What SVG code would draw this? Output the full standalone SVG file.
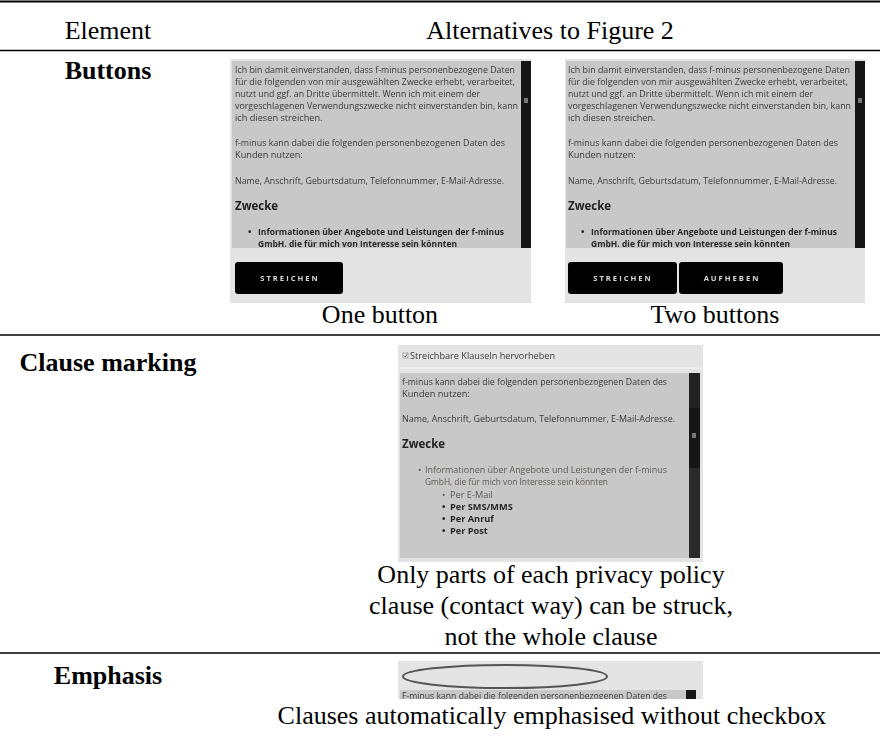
<svg xmlns="http://www.w3.org/2000/svg" width="880" height="742" viewBox="0 0 880 742">
<defs>
<style>
.t{font-family:"Liberation Serif","Times New Roman",serif;font-size:26px;fill:#000}
.b{font-weight:bold}
.s{font-family:"Open Sans","DejaVu Sans",sans-serif;font-size:9.2px;fill:#383838}
.sb{font-family:"Open Sans","DejaVu Sans",sans-serif;font-size:9.2px;font-weight:bold;fill:#262626}
.sh{font-family:"Open Sans","DejaVu Sans",sans-serif;font-size:11.5px;font-weight:bold;fill:#222}
.sl{font-family:"Open Sans","DejaVu Sans",sans-serif;font-size:9.2px;fill:#5e5a56}
.btn{fill:#060606}
.bt{font-family:"Open Sans","DejaVu Sans",sans-serif;font-size:7.6px;font-weight:bold;fill:#d8d8d8;letter-spacing:2px;text-anchor:middle}
.bg{fill:#e4e4e4}
.area{fill:#c8c8c8}
.sc{fill:#141414}
.rule{stroke:#000;fill:none}
</style>
<filter id="soft" x="-2%" y="-2%" width="104%" height="104%"><feGaussianBlur stdDeviation="0.3"/></filter>
<clipPath id="c1"><rect x="232" y="61" width="288" height="187"/></clipPath>
<clipPath id="c2"><rect x="566" y="61" width="289" height="187"/></clipPath>
<clipPath id="c4"><rect x="398" y="661" width="305" height="38"/></clipPath>
</defs>

<g id="table-rules">
<line class="rule" x1="0" y1="1.5" x2="880" y2="1.5" stroke-width="2"/>
<line class="rule" x1="0" y1="50.5" x2="880" y2="50.5" stroke-width="1.5"/>
<line class="rule" x1="0" y1="335" x2="880" y2="335" stroke-width="1.5"/>
<line class="rule" x1="0" y1="653" x2="880" y2="653" stroke-width="1.5"/>
</g>

<g id="header">
<text class="t" x="108" y="39" text-anchor="middle">Element</text>
<text class="t" x="550" y="39" text-anchor="middle">Alternatives to Figure 2</text>
</g>

<g id="row-buttons">
<text class="t b" x="108" y="79" text-anchor="middle">Buttons</text>
<g id="shot-one-button" filter="url(#soft)">
<rect class="bg" x="230" y="59" width="301" height="244"/>
<rect class="area" x="232" y="61" width="289" height="187"/>
<rect class="sc" x="521" y="61" width="10" height="187"/>
<rect x="524" y="98" width="4" height="5" fill="#777"/>
<g clip-path="url(#c1)">
<text class="s" x="235" y="73" textLength="280" lengthAdjust="spacingAndGlyphs">Ich bin damit einverstanden, dass f-minus personenbezogene Daten</text>
<text class="s" x="235" y="85" textLength="280" lengthAdjust="spacingAndGlyphs">für die folgenden von mir ausgewählten Zwecke erhebt, verarbeitet,</text>
<text class="s" x="235" y="97" textLength="245" lengthAdjust="spacingAndGlyphs">nutzt und ggf. an Dritte übermittelt. Wenn ich mit einem der</text>
<text class="s" x="235" y="109" textLength="283" lengthAdjust="spacingAndGlyphs">vorgeschlagenen Verwendungszwecke nicht einverstanden bin, kann</text>
<text class="s" x="235" y="121">ich diesen streichen.</text>
<text class="s" x="235" y="146" textLength="270" lengthAdjust="spacingAndGlyphs">f-minus kann dabei die folgenden personenbezogenen Daten des</text>
<text class="s" x="235" y="158">Kunden nutzen:</text>
<text class="s" x="235" y="184" textLength="269" lengthAdjust="spacingAndGlyphs">Name, Anschrift, Geburtsdatum, Telefonnummer, E-Mail-Adresse.</text>
<text class="sh" x="235" y="210">Zwecke</text>
<text class="sb" x="248" y="235">•</text>
<text class="sb" x="258" y="235" textLength="246" lengthAdjust="spacingAndGlyphs">Informationen über Angebote und Leistungen der f-minus</text>
<text class="sb" x="258" y="247" textLength="199" lengthAdjust="spacingAndGlyphs">GmbH. die für mich von Interesse sein könnten</text>
</g>
<rect class="btn" x="235" y="262" width="108" height="32" rx="3"/>
<text class="bt" x="290" y="281">STREICHEN</text>
</g>
<text class="t" x="380" y="323" text-anchor="middle">One button</text>

<g id="shot-two-buttons" filter="url(#soft)">
<rect class="bg" x="565" y="59" width="300" height="244"/>
<rect class="area" x="566" y="61" width="289" height="187"/>
<rect class="sc" x="855" y="61" width="10" height="187"/>
<rect x="858" y="98" width="4" height="5" fill="#777"/>
<g clip-path="url(#c2)">
<text class="s" x="568" y="73" textLength="282" lengthAdjust="spacingAndGlyphs">Ich bin damit einverstanden, dass f-minus personenbezogene Daten</text>
<text class="s" x="568" y="85" textLength="280" lengthAdjust="spacingAndGlyphs">für die folgenden von mir ausgewählten Zwecke erhebt, verarbeitet,</text>
<text class="s" x="568" y="97" textLength="245" lengthAdjust="spacingAndGlyphs">nutzt und ggf. an Dritte übermittelt. Wenn ich mit einem der</text>
<text class="s" x="568" y="109" textLength="283" lengthAdjust="spacingAndGlyphs">vorgeschlagenen Verwendungszwecke nicht einverstanden bin, kann</text>
<text class="s" x="568" y="121">ich diesen streichen.</text>
<text class="s" x="568" y="146" textLength="270" lengthAdjust="spacingAndGlyphs">f-minus kann dabei die folgenden personenbezogenen Daten des</text>
<text class="s" x="568" y="158">Kunden nutzen:</text>
<text class="s" x="568" y="184" textLength="269" lengthAdjust="spacingAndGlyphs">Name, Anschrift, Geburtsdatum, Telefonnummer, E-Mail-Adresse.</text>
<text class="sh" x="568" y="210">Zwecke</text>
<text class="sb" x="581" y="235">•</text>
<text class="sb" x="591" y="235" textLength="246" lengthAdjust="spacingAndGlyphs">Informationen über Angebote und Leistungen der f-minus</text>
<text class="sb" x="591" y="247" textLength="199" lengthAdjust="spacingAndGlyphs">GmbH. die für mich von Interesse sein könnten</text>
</g>
<rect class="btn" x="568" y="262" width="109" height="32" rx="3"/>
<text class="bt" x="623" y="281">STREICHEN</text>
<rect class="btn" x="679" y="262" width="104" height="32" rx="3"/>
<text class="bt" x="732" y="281">AUFHEBEN</text>
</g>
<text class="t" x="715" y="323" text-anchor="middle">Two buttons</text>
</g>

<g id="row-clause-marking">
<text class="t b" x="108" y="371" text-anchor="middle">Clause marking</text>
<g id="shot-clause" filter="url(#soft)">
<rect class="bg" x="398" y="345" width="305" height="217"/>
<rect x="403" y="353" width="5" height="5" fill="#f4f4f4" stroke="#777" stroke-width="0.6"/>
<path d="M404 355.5 l1.2 1.5 l2 -3" stroke="#333" stroke-width="0.7" fill="none"/>
<text class="s" x="410" y="359" font-size="7.8" textLength="145" lengthAdjust="spacingAndGlyphs">Streichbare Klauseln hervorheben</text>
<line x1="398" y1="368" x2="703" y2="368" stroke="#f2f2f2" stroke-width="1.5"/>
<rect class="area" x="400" y="373" width="289" height="185"/>
<rect class="sc" x="689" y="373" width="11" height="185"/>
<rect x="689" y="373" width="11" height="35" fill="#222"/>
<rect x="689" y="468" width="11" height="90" fill="#2c2c2c"/>
<rect x="692" y="433" width="4" height="5" fill="#777"/>
<text class="s" x="402" y="385" textLength="265" lengthAdjust="spacingAndGlyphs">f-minus kann dabei die folgenden personenbezogenen Daten des</text>
<text class="s" x="402" y="397">Kunden nutzen:</text>
<text class="s" x="402" y="422" textLength="273" lengthAdjust="spacingAndGlyphs">Name, Anschrift, Geburtsdatum, Telefonnummer, E-Mail-Adresse.</text>
<text class="sh" x="402" y="448">Zwecke</text>
<text class="sl" x="418" y="473">•</text>
<text class="sl" x="425" y="473" textLength="242" lengthAdjust="spacingAndGlyphs">Informationen über Angebote und Leistungen der f-minus</text>
<text class="sl" x="425" y="485" textLength="183" lengthAdjust="spacingAndGlyphs">GmbH, die für mich von Interesse sein könnten</text>
<text class="sl" x="442" y="498">•</text>
<text class="sl" x="450" y="498">Per E-Mail</text>
<text class="sb" x="442" y="510">•</text>
<text class="sb" x="450" y="510">Per SMS/MMS</text>
<text class="sb" x="442" y="522">•</text>
<text class="sb" x="450" y="522">Per Anruf</text>
<text class="sb" x="442" y="534">•</text>
<text class="sb" x="450" y="534">Per Post</text>
</g>
<text class="t" x="551" y="583" text-anchor="middle">Only parts of each privacy policy</text>
<text class="t" x="551" y="614" text-anchor="middle">clause (contact way) can be struck,</text>
<text class="t" x="551" y="645" text-anchor="middle">not the whole clause</text>
</g>

<g id="row-emphasis">
<text class="t b" x="108" y="684" text-anchor="middle">Emphasis</text>
<g id="shot-emphasis" filter="url(#soft)">
<rect class="bg" x="398" y="661" width="305" height="38"/>
<g clip-path="url(#c4)">
<rect class="area" x="400" y="690" width="289" height="12"/>
<rect class="sc" x="686" y="690" width="10" height="12"/>
<text class="s" x="402" y="699" textLength="265" lengthAdjust="spacingAndGlyphs">F-minus kann dabei die folgenden personenbezogenen Daten des</text>
</g>
<ellipse cx="505" cy="676.5" rx="102" ry="11.5" fill="none" stroke="#555" stroke-width="2"/>
</g>
<text class="t" x="552" y="724" text-anchor="middle">Clauses automatically emphasised without checkbox</text>
</g>
</svg>
